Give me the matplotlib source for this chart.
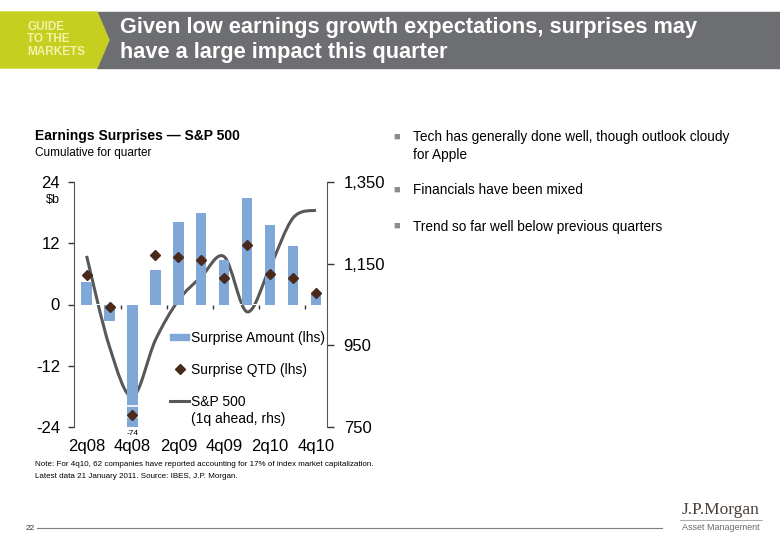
import numpy as np
import matplotlib
matplotlib.use("Agg")
import matplotlib.pyplot as plt
from matplotlib.path import Path
from matplotlib.patches import PathPatch, Rectangle, Polygon
from matplotlib.lines import Line2D
from matplotlib.legend_handler import HandlerPatch

plt.rcParams['font.family'] = ['Liberation Sans', 'DejaVu Sans']

# data
quarters = ['2q08', '3q08', '4q08', '1q09', '2q09', '3q09',
            '4q09', '1q10', '2q10', '3q10', '4q10']
surprise_amount = [4.5, -3.3, -74, 6.7, 16.2, 18.0, 8.8, 20.9, 15.6, 11.4, 2.1]
surprise_qtd = [5.7, -0.4, -21.7, 9.7, 9.3, 8.8, 5.1, 11.6, 5.9, 5.2, 2.2]
sp500 = [1169, 946, 824, 963, 1060, 1118, 1167, 1032, 1142, 1262, 1281]
left_ticks = [-24, -12, 0, 12, 24]
right_ticks = [750, 950, 1150, 1350]
bullets = ["Tech has generally done well, though outlook cloudy\nfor Apple",
           "Financials have been mixed",
           "Trend so far well below previous quarters"]

bar_col = '#7FA7D8'
dot_col = '#4A2A1A'
line_col = '#58585A'
yellow = '#C6CE1F'
band = '#6D6E71'

fig = plt.figure(figsize=(7.8, 5.4), dpi=100)
W, H = 780, 540


def fx(px):
    return px / W


def fy(py):
    return 1 - py / H


# header band
fig.patches.append(Rectangle((fx(97), fy(68)), 1 - fx(97), fy(12) - fy(68),
                             transform=fig.transFigure, color=band, zorder=0))
fig.patches.append(Polygon([(0, fy(12)), (fx(97), fy(12)), (fx(109), fy(40)),
                            (fx(97), fy(68)), (0, fy(68))],
                           transform=fig.transFigure, color=yellow, zorder=1))
fig.text(fx(27), fy(39.5), "GUIDE\nTO THE\nMARKETS", color='#F1F4A8', fontsize=8.5,
         fontweight='bold', va='center', ha='left', linespacing=1.02)
fig.text(fx(120), fy(40), "Given low earnings growth expectations, surprises may\n"
         "have a large impact this quarter", color='white', fontsize=15.7,
         fontweight='bold', va='center', ha='left', linespacing=1.2)

# chart titles
fig.text(fx(35), fy(136), "Earnings Surprises \u2014 S&P 500", fontsize=10,
         fontweight='bold', va='center')
fig.text(fx(35), fy(153), "Cumulative for quarter", fontsize=8.5, va='center')

ax = fig.add_axes([fx(74), fy(427), fx(327) - fx(74), fy(182) - fy(427)])
ax2 = ax.twinx()
ax.set_zorder(ax2.get_zorder() + 1)
ax.patch.set_visible(False)

x = np.arange(len(quarters))
bars = ax.bar(x, surprise_amount, width=0.45, color=bar_col, zorder=2,
              label='Surprise Amount (lhs)')
ax.plot(x, surprise_qtd, linestyle='none', marker='D', markersize=5,
        color=dot_col, zorder=4, label='Surprise QTD (lhs)')

# break marks on the clipped -74 bar
ymin = -24
for off in (1.9, 4.1):
    ax.hlines(ymin + off, x[2] - 0.3, x[2] + 0.3, color='white', linewidth=1.2,
              zorder=3)

# smooth S&P line (Catmull-Rom as Bezier segments)
pts = np.column_stack([x, sp500]).astype(float)
ext = np.vstack([pts[0], pts, pts[-1]])
verts = [tuple(pts[0])]
codes = [Path.MOVETO]
for i in range(1, len(ext) - 2):
    p0, p1, p2, p3 = ext[i - 1], ext[i], ext[i + 1], ext[i + 2]
    c1 = p1 + (p2 - p0) / 6
    c2 = p2 - (p3 - p1) / 6
    verts += [tuple(c1), tuple(c2), tuple(p2)]
    codes += [Path.CURVE4] * 3
ax2.add_patch(PathPatch(Path(verts, codes), facecolor='none', edgecolor=line_col,
                        linewidth=2.2, zorder=3, clip_on=False))

ax.set_xlim(-0.55, 10.48)
ax.set_ylim(ymin, 24)
ax2.set_ylim(750, 1350)
ax.set_yticks(left_ticks)
ax.set_yticklabels([str(t) for t in left_ticks])
ax2.set_yticks(right_ticks)
ax2.set_yticklabels([f"{t:,}" for t in right_ticks])
ax.set_xticks(x[::2])
ax.set_xticklabels(quarters[::2])

for a in (ax, ax2):
    for s in ('top', 'bottom'):
        a.spines[s].set_visible(False)
ax.spines['right'].set_visible(False)
ax2.spines['left'].set_visible(False)
ax.spines['left'].set_color('#555555')
ax2.spines['right'].set_color('#555555')
ax.tick_params(axis='y', length=4, width=1, color='#333333', pad=6, labelsize=12)
ax2.tick_params(axis='y', length=5, width=1, color='#333333', pad=7, labelsize=12)
ax.tick_params(axis='x', length=0, pad=9, labelsize=12)

# small ticks on zero line between category pairs
sec = ax.secondary_xaxis(0.5)
for sp in sec.spines.values():
    sp.set_visible(False)
sec.xaxis.set_ticks_position('bottom')
sec.set_xticks(x[1:-1:2] + 0.5)
sec.set_xticklabels([])
sec.tick_params(length=3, width=1, color='#333333', direction='out')

ax.text(-0.055, 0.95, r"\$b", transform=ax.transAxes, fontsize=9,
        ha='right', va='top')
ax.annotate(f"{surprise_amount[2]:.0f}", xy=(x[2], ymin), xytext=(0, -2),
            textcoords='offset points', ha='center', va='top', fontsize=6,
            annotation_clip=False)


def thin_rect(legend, orig_handle, xdescent, ydescent, width, height, fontsize):
    return Rectangle((-xdescent, -ydescent + 0.2 * height), width, 0.6 * height)


handles = [Rectangle((0, 0), 1, 1, color=bar_col),
           Line2D([], [], linestyle='none', marker='D', markersize=5, color=dot_col),
           Line2D([], [], color=line_col, linewidth=2.2)]
labels = ['Surprise Amount (lhs)', 'Surprise QTD (lhs)', 'S&P 500']
leg = ax.legend(handles, labels, loc='upper left', bbox_to_anchor=(0.379, 0.393),
                frameon=False, fontsize=10, handlelength=1.4, handletextpad=0.15,
                labelspacing=1.3, borderpad=0, borderaxespad=0,
                handler_map={Rectangle: HandlerPatch(patch_func=thin_rect)})
fig.canvas.draw()
ax.annotate("(1q ahead, rhs)", xy=(0, 0), xycoords=leg.get_texts()[2],
            xytext=(0, -2.5), textcoords='offset points', ha='left', va='top',
            fontsize=10)

# bullets
for yb, txt in zip([136, 189, 225], bullets):
    fig.text(fx(397), fy(yb + 1), "\u25a0", color='#8C8C8C', fontsize=8,
             va='center', ha='center')
    fig.text(fx(413), fy(yb - 5.5), txt, fontsize=9.8, va='top', ha='left',
             linespacing=1.3)

fig.text(fx(35), fy(464), "Note: For 4q10, 62 companies have reported accounting "
         "for 17% of index market capitalization.", fontsize=5.8, va='center')
fig.text(fx(35), fy(476), "Latest data 21 January 2011. Source: IBES, J.P. Morgan.",
         fontsize=5.8, va='center')

# footer
fig.add_artist(Line2D([fx(37), fx(662)], [fy(528), fy(528)], color='#7F7F7F',
                      linewidth=0.8))
fig.text(fx(30), fy(528), "22", fontsize=6, va='center', ha='center', color='#333333')
fig.text(fx(721), fy(510), "J.P.Morgan", family=['Liberation Serif', 'DejaVu Serif'],
         fontsize=12.5, color='#4B3F37', va='center', ha='center')
fig.add_artist(Line2D([fx(680), fx(762)], [fy(519.5), fy(519.5)], color='#9A9A9A',
                      linewidth=0.6))
fig.text(fx(721), fy(527), "Asset Management", fontsize=6.5, color='#6B6B6B',
         va='center', ha='center')

fig.savefig("out.png", dpi=100)
